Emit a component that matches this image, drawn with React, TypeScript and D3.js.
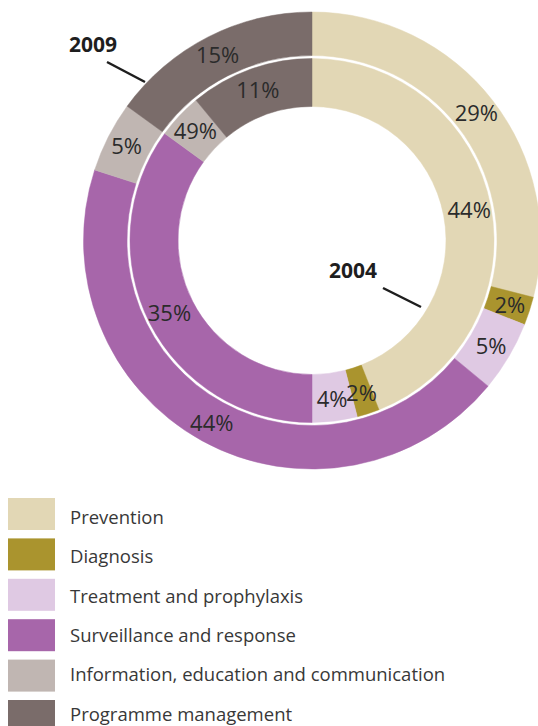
import { useEffect, useRef } from "react";
import * as d3 from "d3";

const categories = [
  "Prevention",
  "Diagnosis",
  "Treatment and prophylaxis",
  "Surveillance and response",
  "Information, education and communication",
  "Programme management",
];
const colors = ["#e2d7b5", "#aa942e", "#dfc9e3", "#a766aa", "#c0b6b2", "#7a6c6a"];

const values2009 = [29, 2, 5, 44, 5, 15];
const labels2009 = ["29%", "2%", "5%", "44%", "5%", "15%"];

const values2004 = [44, 2, 4, 35, 4, 11];
// as printed in the source (the information slice reads "49%")
const labels2004 = ["44%", "2%", "4%", "35%", "49%", "11%"];

export default function App() {
  const ref = useRef<SVGSVGElement | null>(null);

  useEffect(() => {
    if (!ref.current) return;
    const svg = d3.select(ref.current);
    svg.selectAll("*").remove();

    const cx = 312;
    const cy = 240.5;
    const font = "'Open Sans', 'Noto Sans', sans-serif";

    const pie = d3
      .pie<number>()
      .sort(null)
      .value((d) => d);

    const rings = [
      { values: values2009, labels: labels2009, inner: 185, outer: 228.5, labelR: 208 },
      { values: values2004, labels: labels2004, inner: 134, outer: 182, labelR: 160 },
    ];

    const g = svg.append("g").attr("transform", `translate(${cx},${cy})`);

    rings.forEach((ring) => {
      const arc = d3
        .arc<d3.PieArcDatum<number>>()
        .innerRadius(ring.inner)
        .outerRadius(ring.outer);
      const labelArc = d3
        .arc<d3.PieArcDatum<number>>()
        .innerRadius(ring.labelR)
        .outerRadius(ring.labelR);
      const arcs = pie(ring.values);

      g.append("g")
        .selectAll("path")
        .data(arcs)
        .join("path")
        .attr("d", arc)
        .attr("fill", (_, i) => colors[i])
        .attr("stroke", (_, i) => colors[i])
        .attr("stroke-width", 0.5);

      g.append("g")
        .selectAll("text")
        .data(arcs)
        .join("text")
        .attr("transform", (d) => `translate(${labelArc.centroid(d)})`)
        .attr("text-anchor", "middle")
        .attr("dy", "0.36em")
        .attr("font-family", font)
        .attr("font-size", 22)
        .attr("fill", "#2b2b2b")
        .text((_, i) => ring.labels[i]);
    });

    // year callouts
    const callouts = [
      { text: "2009", x: 69, y: 52, line: [107, 62, 145, 82] },
      { text: "2004", x: 329, y: 278, line: [383, 288, 421, 307] },
    ];
    callouts.forEach((c) => {
      svg
        .append("text")
        .attr("x", c.x)
        .attr("y", c.y)
        .attr("font-family", font)
        .attr("font-weight", "bold")
        .attr("font-size", 21)
        .attr("fill", "#1e1e1e")
        .text(c.text);
      svg
        .append("line")
        .attr("x1", c.line[0])
        .attr("y1", c.line[1])
        .attr("x2", c.line[2])
        .attr("y2", c.line[3])
        .attr("stroke", "#1e1e1e")
        .attr("stroke-width", 2.5);
    });

    // legend
    const legend = svg
      .append("g")
      .selectAll("g")
      .data(categories)
      .join("g");

    legend
      .append("rect")
      .attr("x", 8)
      .attr("y", (_, i) => 498 + i * 40.4)
      .attr("width", 47)
      .attr("height", 32)
      .attr("fill", (_, i) => colors[i]);

    legend
      .append("text")
      .attr("x", 70)
      .attr("y", (_, i) => 524 + i * 39.3)
      .attr("font-family", font)
      .attr("font-size", 18.5)
      .attr("fill", "#383838")
      .text((d) => d);
  }, []);

  return (
    <svg
      ref={ref}
      width={538}
      height={726}
      style={{ position: "absolute", left: 0, top: 0, background: "#ffffff" }}
    />
  );
}
